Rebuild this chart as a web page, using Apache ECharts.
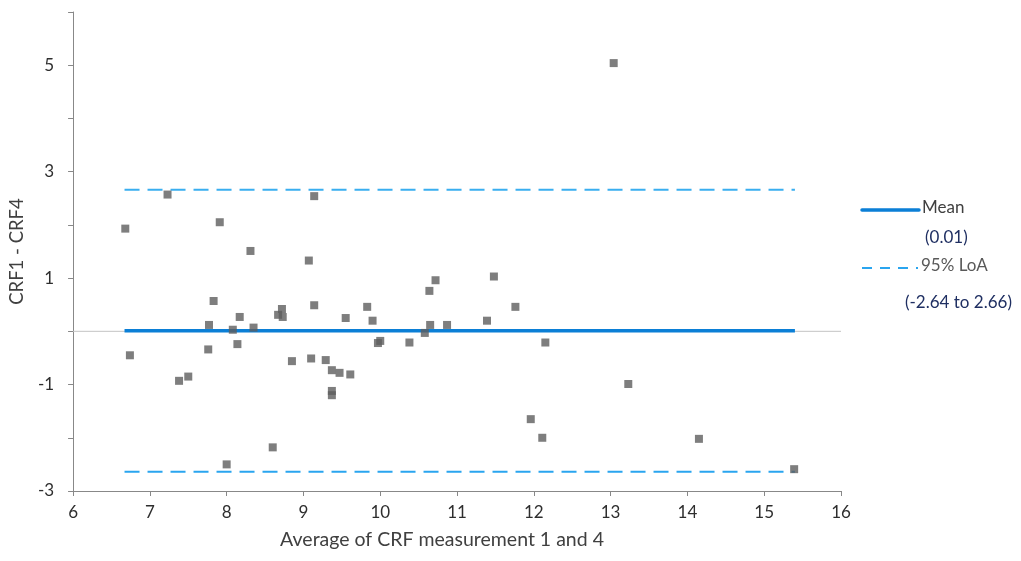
<!DOCTYPE html>
<html>
<head>
<meta charset="utf-8">
<script src="https://cdn.jsdelivr.net/npm/echarts@6/dist/echarts.min.js"></script>
<style>html,body{margin:0;padding:0;background:#fff;}#c{width:1021px;height:561px;}</style>
</head>
<body>
<div id="c"></div>
<script>
// Bland-Altman data: average of CRF measurement 1 and 4 (x) vs CRF1 - CRF4 (y)
const avgX = [6.68, 7.23, 7.91, 8.31, 7.83, 8.17, 7.77, 8.08, 8.35, 8.72, 8.67, 8.73,
  6.74, 7.76, 8.14, 8.85, 7.38, 7.50, 8.60, 8.00,
  9.14, 9.07, 9.14, 9.55, 9.83, 9.90, 9.97, 10.00, 10.38, 10.64, 10.72, 10.65, 10.58, 10.87, 11.39,
  9.10, 9.29, 9.37, 9.47, 9.61, 9.37, 9.37,
  11.48, 11.76, 12.15, 13.23, 11.96, 12.11, 13.04, 14.15, 15.39];
const diffY = [1.93, 2.57, 2.05, 1.51, 0.57, 0.27, 0.12, 0.03, 0.07, 0.42, 0.31, 0.27,
  -0.45, -0.34, -0.24, -0.56, -0.93, -0.85, -2.18, -2.50,
  2.54, 1.33, 0.49, 0.25, 0.46, 0.20, -0.22, -0.18, -0.21, 0.76, 0.96, 0.12, -0.03, 0.12, 0.20,
  -0.51, -0.54, -0.73, -0.78, -0.81, -1.12, -1.20,
  1.03, 0.46, -0.21, -0.99, -1.65, -2.00, 5.04, -2.02, -2.59];
const meanDiff = 0.01;
const loaLower = -2.64;
const loaUpper = 2.66;
const lineSpanX = [6.67, 15.40];
const zeroSpanX = [6, 16];
const legendTexts = ['Mean', '(0.01)', '95% LoA', '(-2.64 to 2.66)'];
const xTitle = 'Average of CRF measurement 1 and 4';
const yTitle = 'CRF1 - CRF4';

const FONT = 'Lato, "Noto Sans", sans-serif';
const points = avgX.map((x, i) => [x, diffY[i]]);
const hLine = (y) => lineSpanX.map(x => [x, y]);

const chart = echarts.init(document.getElementById('c'), null, {renderer: 'canvas'});
chart.setOption({
  animation: false,
  backgroundColor: '#ffffff',
  grid: {left: 73, right: 180, top: 12, bottom: 70},
  xAxis: {
    type: 'value', min: 6, max: 16, interval: 1,
    name: xTitle, nameLocation: 'middle', nameGap: 39,
    nameTextStyle: {fontFamily: FONT, fontSize: 19.5, color: '#404040', padding: [0, 30, 0, 0]},
    axisLine: {show: true, onZero: false, lineStyle: {color: '#888888', width: 1}},
    axisTick: {show: true, inside: false, length: 5, lineStyle: {color: '#888888'}},
    axisLabel: {fontFamily: FONT, fontSize: 17, color: '#2e2e2e', margin: 13},
    splitLine: {show: false}
  },
  yAxis: {
    type: 'value', min: -3, max: 6, interval: 1,
    name: yTitle, nameLocation: 'middle', nameGap: 42,
    nameTextStyle: {fontFamily: FONT, fontSize: 18.5, color: '#404040'},
    axisLine: {show: true, onZero: false, lineStyle: {color: '#888888', width: 1}},
    axisTick: {show: true, inside: false, length: 5, lineStyle: {color: '#888888'}},
    axisLabel: {fontFamily: FONT, fontSize: 17, color: '#2e2e2e', margin: 19,
      formatter: v => (Math.abs(v) % 2 === 1 ? String(v) : '')},
    splitLine: {show: false}
  },
  series: [
    {type: 'line', data: zeroSpanX.map(x => [x, 0]), symbol: 'none', silent: true,
      lineStyle: {color: '#c4c4c4', width: 1}, z: 1},
    {type: 'line', data: hLine(loaUpper), symbol: 'none', silent: true,
      lineStyle: {color: '#3aaef0', width: 2, type: [15, 8]}, z: 2},
    {type: 'line', data: hLine(loaLower), symbol: 'none', silent: true,
      lineStyle: {color: '#2aa5ef', width: 2, type: [15, 8]}, z: 2},
    {type: 'line', data: hLine(meanDiff), symbol: 'none', silent: true,
      lineStyle: {color: '#0b7fd6', width: 3.5}, z: 3},
    {type: 'scatter', data: points, symbol: 'rect', symbolSize: 8,
      itemStyle: {color: '#5e5e5e'}, z: 4}
  ],
  graphic: [
    {type: 'line', shape: {x1: 862, y1: 210, x2: 919, y2: 210},
      style: {stroke: '#0b7fd6', lineWidth: 3.5, lineCap: 'round'}},
    {type: 'text', left: 922, top: 199,
      style: {text: legendTexts[0], font: '17px ' + FONT, fill: '#404040'}},
    {type: 'text', left: 925, top: 229,
      style: {text: legendTexts[1], font: '17px ' + FONT, fill: '#1f2f62'}},
    {type: 'line', shape: {x1: 862, y1: 268, x2: 918, y2: 268},
      style: {stroke: '#2aa5ef', lineWidth: 2, lineDash: [10, 8]}},
    {type: 'text', left: 921, top: 257,
      style: {text: legendTexts[2], font: '17px ' + FONT, fill: '#595959'}},
    {type: 'text', left: 905, top: 294,
      style: {text: legendTexts[3], font: '17px ' + FONT, fill: '#1f2f62'}}
  ]
});
</script>
</body>
</html>
